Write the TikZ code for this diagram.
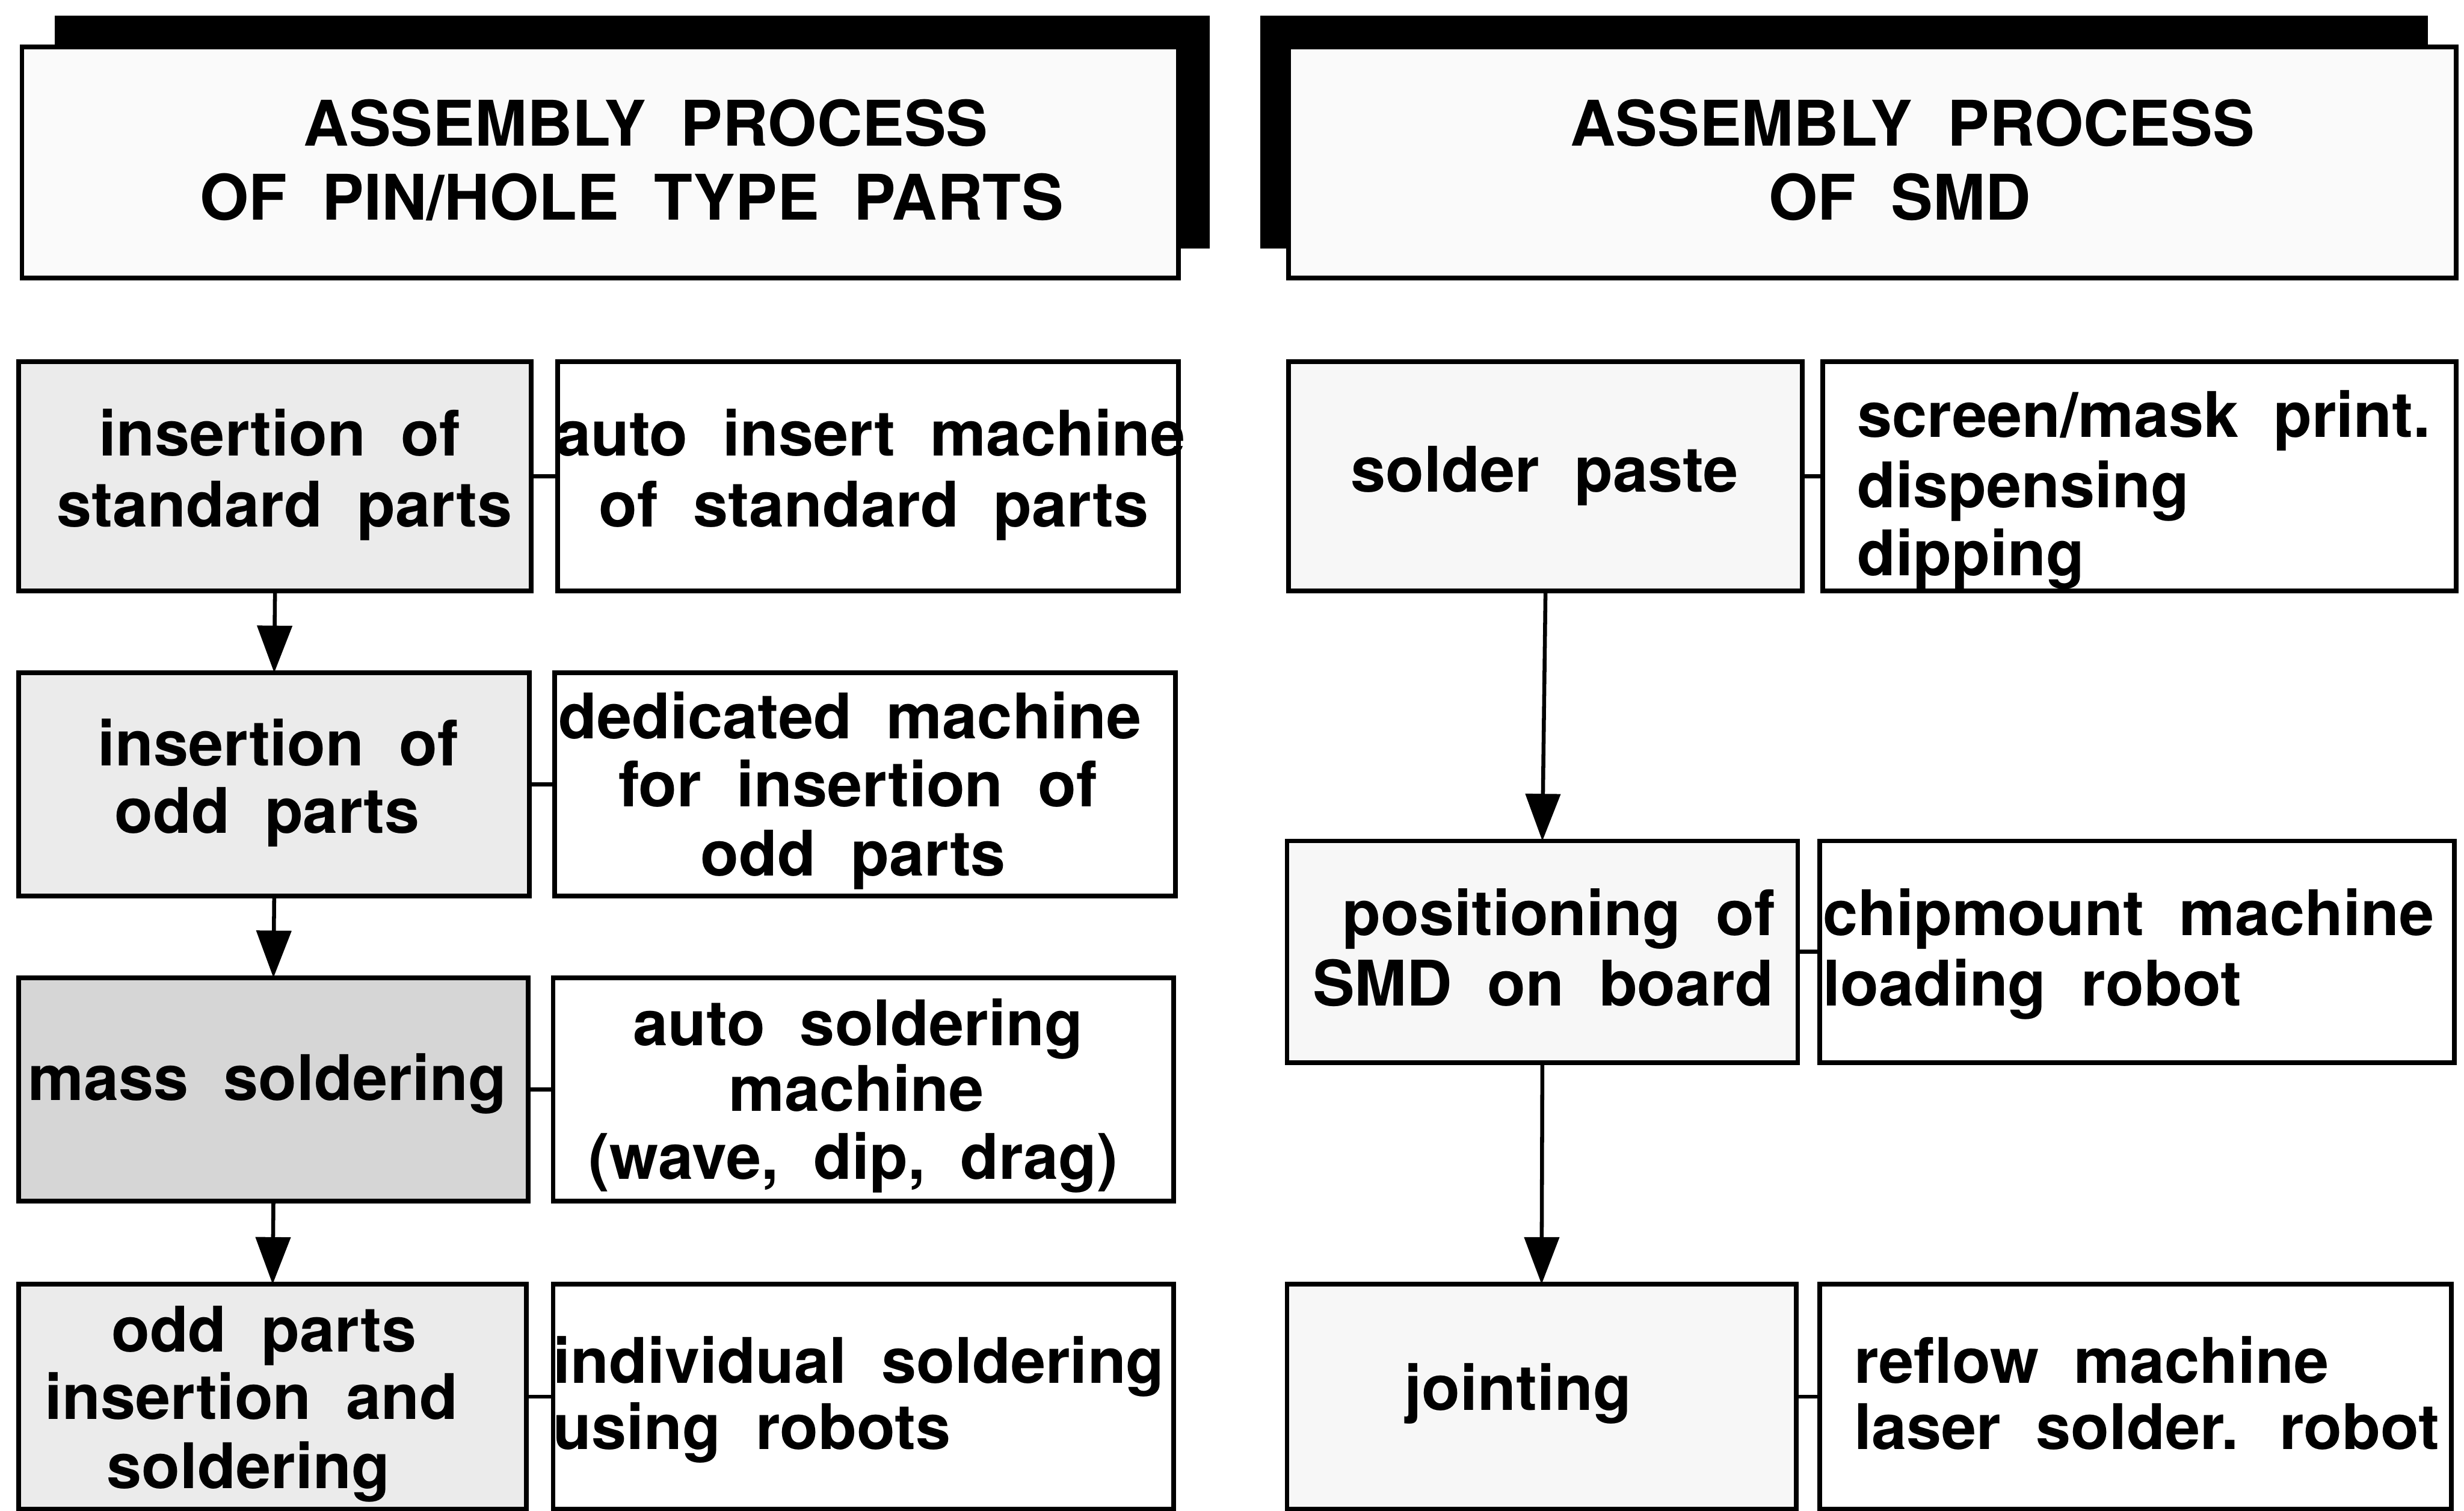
\documentclass[tikz,border=0pt]{standalone}
\usepackage{fontspec}
\setmainfont{TeX Gyre Heros}[WordSpace=2]
\usetikzlibrary{arrows.meta}

\begin{document}
\begin{tikzpicture}[x=1pt,y=-1pt,
  every node/.style={inner sep=0pt, outer sep=0pt},
  headbox/.style={draw, line width=3pt, fill=black!2, anchor=north west},
  stepbox/.style={draw, line width=3pt, fill=white, anchor=north west},
  procbox/.style={stepbox, fill=black!8},
  darkbox/.style={stepbox, fill=black!16},
  smdbox/.style={stepbox, fill=black!3},
  lbl/.style={font=\fontsize{40}{45}\selectfont\bfseries, anchor=base},
  lblw/.style={lbl, anchor=base west},
  link/.style={line width=2.5pt},
  flow/.style={line width=2.5pt, -{Triangle[length=30pt,width=22pt]}}
]
\useasboundingbox (0,0) rectangle (1568,961);

% ---- header panels with offset black shadows ----
\fill (35,10) rectangle (770,158);
\node[headbox, minimum width=736, minimum height=147] (headL) at (14,30) {};
\node[lbl] (headLa) at (411,93) {ASSEMBLY PROCESS};
\node[lbl] (headLb) at (402,140) {OF PIN/HOLE TYPE PARTS};

\fill (802,10) rectangle (1545,158);
\node[headbox, minimum width=743, minimum height=147] (headR) at (820,30) {};
\node[lbl] (headRa) at (1217,93) {ASSEMBLY PROCESS};
\node[lbl] (headRb) at (1209,140) {OF SMD};

% ---- pin/hole column: process steps ----
\node[procbox, minimum width=326, minimum height=146] (L1) at (12,230) {};
\node[procbox, minimum width=325, minimum height=142] (L2) at (12,428) {};
\node[darkbox, minimum width=324, minimum height=142] (L3) at (12,622) {};
\node[procbox, minimum width=323, minimum height=143] (L4) at (12,817) {};
% equipment
\node[stepbox, minimum width=395, minimum height=146] (R1) at (355,230) {};
\node[stepbox, minimum width=395, minimum height=142] (R2) at (353,428) {};
\node[stepbox, minimum width=395, minimum height=142] (R3) at (352,622) {};
\node[stepbox, minimum width=395, minimum height=143] (R4) at (352,817) {};

% ---- SMD column: process steps ----
\node[smdbox, minimum width=327, minimum height=146] (A1) at (820,230) {};
\node[smdbox, minimum width=325, minimum height=141] (A2) at (819,535) {};
\node[smdbox, minimum width=324, minimum height=143] (A3) at (819,817) {};
% equipment
\node[stepbox, minimum width=403, minimum height=146] (B1) at (1160,230) {};
\node[stepbox, minimum width=404, minimum height=141] (B2) at (1158,535) {};
\node[stepbox, minimum width=402, minimum height=143] (B3) at (1158,817) {};

% ---- links between step and equipment ----
\foreach \s/\e in {L1/R1, L2/R2, L3/R3, L4/R4, A1/B1, A2/B2, A3/B3}
  \draw[link] (\s.east) -- (\e.west);

% ---- process flow ----
\draw[flow] (L1.south) -- (L2.north);
\draw[flow] (L2.south) -- (L3.north);
\draw[flow] (L3.south) -- (L4.north);
\draw[flow] (A1.south) -- (A2.north);
\draw[flow] (A2.south) -- (A3.north);

% ---- labels, pin/hole column ----
\node[lbl] (tL1a) at (178,290) {insertion of};
\node[lbl] (tL1b) at (181,335) {standard parts};
\node[lbl] (tR1a) at (554,290) {auto insert machine};
\node[lbl] (tR1b) at (556,335) {of standard parts};

\node[lbl] (tL2a) at (177,487) {insertion of};
\node[lbl] (tL2b) at (170,530) {odd parts};
\node[lbl] (tR2a) at (541,470) {dedicated machine};
\node[lbl] (tR2b) at (546,513) {for insertion of};
\node[lbl] (tR2c) at (543,557) {odd parts};

\node[lbl] (tL3a) at (170,700) {mass soldering};
\node[lbl] (tR3a) at (546,665) {auto soldering};
\node[lbl] (tR3b) at (545,707) {machine};
\node[lbl] (tR3c) at (543,750) {(wave, dip, drag)};

\node[lbl] (tL4a) at (168,860) {odd parts};
\node[lbl] (tL4b) at (160,903) {insertion and};
\node[lbl] (tL4c) at (158,947) {soldering};
\node[lblw] (tR4a) at (352,880) {individual soldering};
\node[lblw] (tR4b) at (352,922) {using robots};

% ---- labels, SMD column ----
\node[lbl] (tA1a) at (983,313) {solder paste};
\node[lblw] (tB1a) at (1182,278) {screen/mask print.};
\node[lblw] (tB1b) at (1182,323) {dispensing};
\node[lblw] (tB1c) at (1182,366) {dipping};

\node[lbl] (tA2a) at (992,595) {positioning of};
\node[lbl] (tA2b) at (982,640) {SMD on board};
\node[lblw] (tB2a) at (1160,595) {chipmount machine};
\node[lblw] (tB2b) at (1160,640) {loading robot};

\node[lbl] (tA3a) at (966,897) {jointing};
\node[lblw] (tB3a) at (1180,880) {reflow machine};
\node[lblw] (tB3b) at (1180,922) {laser solder. robot};
\end{tikzpicture}
\end{document}
